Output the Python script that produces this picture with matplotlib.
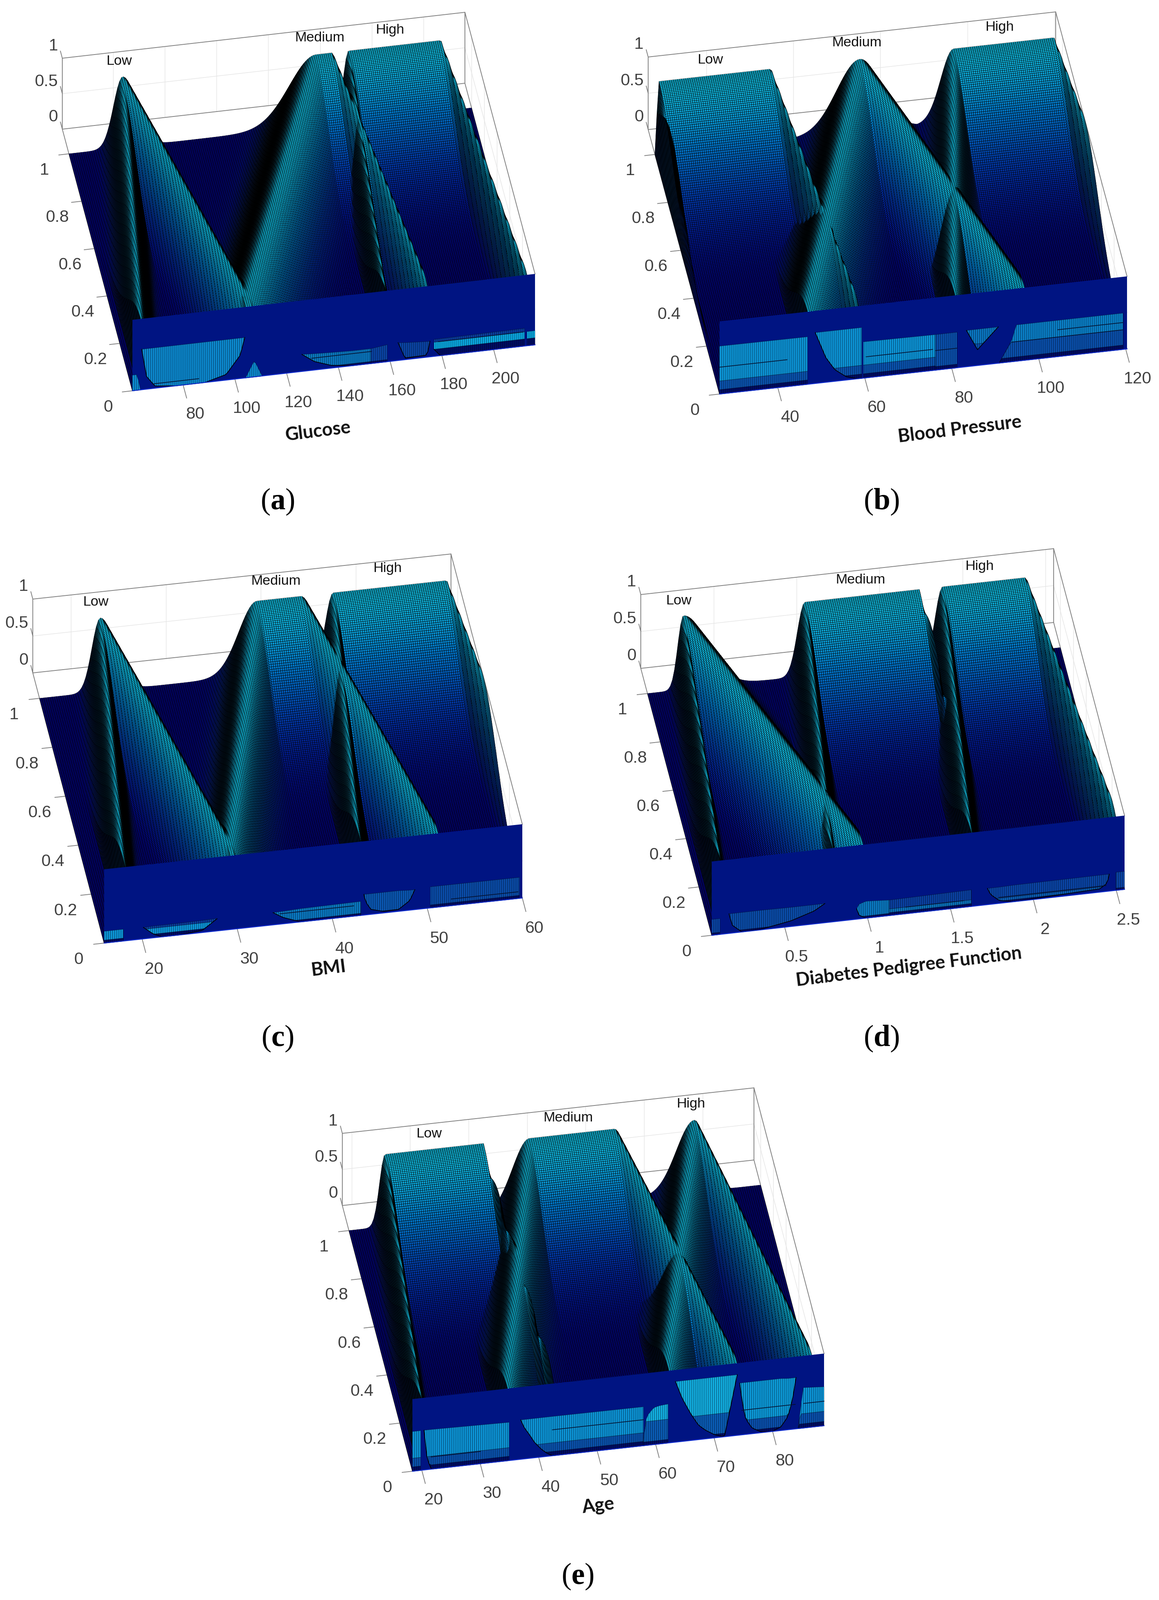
#!/usr/bin/env python3
''' Five type-2 membership surfaces (Low / Medium / High) for the diabetes inputs
'''

import numpy as np
import matplotlib
matplotlib.use('Agg')
from matplotlib import pyplot as plt
from matplotlib.colors import LinearSegmentedColormap
from mpl_toolkits.mplot3d import proj3d

#
# data
#

names = ['Glucose', 'Blood Pressure', 'BMI', 'Diabetes Pedigree Function', 'Age']
captions = ['a', 'b', 'c', 'd', 'e']

x_ranges = [(60.4, 216), (26.6, 120.3), (16, 60), (0.06, 2.55), (18.4, 88.8)]
x_ticks = [
    [80, 100, 120, 140, 160, 180, 200],
    [40, 60, 80, 100, 120],
    [20, 30, 40, 50, 60],
    [0.5, 1, 1.5, 2, 2.5],
    [20, 30, 40, 50, 60, 70, 80],
]
y_ticks = [0, 0.2, 0.4, 0.6, 0.8, 1]
z_ticks = [0, 0.5, 1]
set_names = ['Low', 'Medium', 'High']

# membership breakpoints
low_sets = [
    [63.5, 81.2, 107],
    [26.6, 27.2, 53.2, 58.9],
    [18, 22.4, 29.9],
    [0.107, 0.277, 0.98],
    [19.8, 24.6, 41.4, 43],
]
medium_sets = [
    [104, 156, 162, 175],
    [46.8, 73.8, 96.9],
    [29.2, 38.9, 43.5, 51.2],
    [0.78, 1.01, 1.71, 1.72],
    [34.6, 49.3, 63.8, 74],
]
high_sets = [
    [158, 168.5, 204, 213],
    [80.5, 95.3, 118.3, 124],
    [42.8, 46.9, 58.8, 61.8],
    [1.62, 1.84, 2.34, 2.51],
    [62, 77.5, 86.7],
]
spread = 0.2

# what shows through the front wall: axis fraction, lower edge, upper edge, band
NAVY = '#000c62'
bright = ([], ['#0c8ad0'])
layer = ([0.06, 0.18], [NAVY, '#0a52ac', '#0c94d6'])
cyan = ([0.05, 0.33], [NAVY, '#0a5cb4', '#12aee0'])
dim = ([0.03], [NAVY, '#0a44a4'])
mid = ([0.03], [NAVY, '#0a78c0'])
strip = ([0.1, 0.2], [NAVY, '#0aa8e0', '#0a3c9c'])

holes_a = [
    ([0, 0.012, 0.02], [0, 0, 0], [0.22, 0.22, 0], bright),
    ([0.023, 0.035, 0.056, 0.11, 0.18, 0.233, 0.268, 0.279],
     [0.57, 0.18, 0.03, 0, 0, 0.08, 0.33, 0.57],
     [0.57, 0.57, 0.57, 0.57, 0.57, 0.57, 0.57, 0.57], bright),
    ([0.281, 0.303, 0.322], [0, 0, 0], [0, 0.23, 0], bright),
    ([0.421, 0.452, 0.493, 0.546, 0.592], [0.24, 0.12, 0.04, 0, 0],
     [0.24, 0.23, 0.22, 0.21, 0.21], mid),
    ([0.592, 0.633], [0, 0], [0.21, 0.24], dim),
    ([0.66, 0.677, 0.732, 0.739], [0.25, 0.02, 0.03, 0.22], [0.25, 0.24, 0.22, 0.22], dim),
    ([0.749, 0.765, 0.974], [0.1, 0, 0], [0.24, 0.24, 0.25], strip),
    ([0.98, 1], [0, 0], [0.2, 0.2], strip),
]
holes_b = [
    ([0, 0.216], [0, 0], [0.66, 0.655], layer),
    ([0.235, 0.261, 0.283, 0.311, 0.339, 0.349], [0.70, 0.34, 0.16, 0.045, 0, 0],
     [0.70, 0.70, 0.70, 0.70, 0.70, 0.70], layer),
    ([0.353, 0.53], [0, 0], [0.5, 0.49], layer),
    ([0.53, 0.583], [0, 0], [0.49, 0.49], ([0.05], [NAVY, '#0a50ac'])),
    ([0.606, 0.633, 0.684], [0.5, 0.217, 0.5], [0.5, 0.5, 0.5], ([0.3], ['#0a50ac', '#0a76c0'])),
    ([0.686, 0.717, 0.728, 0.99], [0, 0, 0, 0], [0, 0.29, 0.5, 0.5],
     ([0.06, 0.27], [NAVY, '#0a50ac', '#0a80c8'])),
]
holes_c = [
    ([0, 0.046], [0, 0], [0.16, 0.16], ([0.04], [NAVY, '#0c94d6'])),
    ([0.094, 0.118, 0.139, 0.18, 0.235, 0.27], [0.155, 0.05, 0, 0, 0.03, 0.165],
     [0.155, 0.16, 0.16, 0.16, 0.165, 0.17], ([0.05, 0.13], [NAVY, '#0c94d6', '#0a3c9c'])),
    ([0.404, 0.428, 0.47, 0.614], [0.166, 0.086, 0, 0], [0.166, 0.17, 0.18, 0.19], mid),
    ([0.621, 0.625, 0.638, 0.669, 0.704, 0.731, 0.743],
     [0.28, 0.18, 0.067, 0.02, 0.026, 0.13, 0.27],
     [0.28, 0.28, 0.28, 0.28, 0.28, 0.27, 0.27], ([0.03], [NAVY, '#0a56b0'])),
    ([0.78, 0.993], [0, 0], [0.286, 0.284], ([0.04], [NAVY, '#0a4ca8'])),
]
holes_d = [
    ([0, 0.02], [0, 0], [0.215, 0.215], dim),
    ([0.042, 0.049, 0.073, 0.122, 0.192, 0.248, 0.274], [0.265, 0.11, 0, 0.01, 0.077, 0.175, 0.26],
     [0.265, 0.265, 0.265, 0.265, 0.26, 0.26, 0.26], ([0.03], [NAVY, '#0a4ca8'])),
    ([0.351, 0.357, 0.374, 0.43], [0.14, 0.05, 0, 0], [0.14, 0.2, 0.23, 0.21], mid),
    ([0.43, 0.629], [0, 0], [0.21, 0.225], ([0.04, 0.09], [NAVY, '#0a70b8', '#0a40a0'])),
    ([0.668, 0.675, 0.696, 0.731, 0.94, 0.958, 0.963], [0.22, 0.135, 0.04, 0, 0.045, 0.11, 0.23],
     [0.22, 0.22, 0.22, 0.225, 0.23, 0.23, 0.23], ([0.03, 0.07], [NAVY, '#0a5cb0', '#0a44a4'])),
    ([0.979, 1], [0, 0], [0.245, 0.245], dim),
]
holes_e = [
    ([0, 0.02], [0, 0], [0.55, 0.55], layer),
    ([0.028, 0.036, 0.046, 0.235], [0.55, 0.14, 0, 0], [0.55, 0.55, 0.55, 0.53], layer),
    ([0.263, 0.272, 0.284, 0.297, 0.312, 0.325, 0.34, 0.561], [0.545, 0.43, 0.33, 0.21, 0.115, 0.05, 0, 0],
     [0.545, 0.545, 0.545, 0.545, 0.545, 0.545, 0.545, 0.54], layer),
    ([0.561, 0.565, 0.572, 0.586, 0.6, 0.621], [0, 0, 0, 0, 0, 0], [0.05, 0.32, 0.42, 0.51, 0.53, 0.54], cyan),
    ([0.639, 0.655, 0.677, 0.695, 0.712, 0.735, 0.758, 0.789], [0.84, 0.6, 0.36, 0.2, 0.12, 0.04, 0, 0.84],
     [0.84, 0.84, 0.84, 0.84, 0.84, 0.84, 0.84, 0.84], cyan),
    ([0.795, 0.802, 0.81, 0.825, 0.846, 0.874, 0.895, 0.912, 0.923, 0.932],
     [0.72, 0.42, 0.21, 0.08, 0.014, 0, 0.05, 0.18, 0.4, 0.71],
     [0.72, 0.72, 0.72, 0.72, 0.72, 0.72, 0.72, 0.71, 0.71, 0.71], ([0.05, 0.2], [NAVY, '#0a50ac', '#0c9ad8'])),
    ([0.937, 0.949, 1], [0, 0, 0], [0, 0.56, 0.54], ([0.06, 0.2], [NAVY, '#0a50ac', '#0c94d6'])),
]
wall_holes = [holes_a, holes_b, holes_c, holes_d, holes_e]

# thin dark lines seen through the holes: from, to (axis fraction), height
hairlines = [
    [(0.05, 0.165, 0.064), (0.445, 0.594, 0.17), (0.76, 0.97, 0.2)],
    [(0, 0.166, 0.37), (0.36, 0.523, 0.29), (0.53, 0.583, 0.27), (0.717, 0.99, 0.27), (0.83, 0.99, 0.37)],
    [(0.42, 0.597, 0.14), (0.83, 0.99, 0.09)],
    [(0.696, 0.955, 0.08), (0.47, 0.61, 0.09)],
    [(0.045, 0.165, 0.17), (0.34, 0.561, 0.36), (0.8, 0.93, 0.34), (0.95, 1, 0.34)],
]

#
# layout, in reference pixels
#

W, H, DPI = 2827, 3902, 300
# front-left corner, front-right corner, back-left corner, box height
corners = [
    ((323, 953), (1305, 841), (152, 315), 173),
    ((1755, 961), (2749, 851), (1581, 316), 177),
    ((254, 2300), (1274, 2190), (80, 1641), 180),
    ((1736, 2281), (2743, 2169), (1563, 1630), 180),
    ((1006, 3588), (2010, 3477), (835, 2940), 176),
]
set_label_pos = [
    [(290, 149), (780, 92), (951, 73)],
    [(1732, 146), (2090, 104), (2438, 66)],
    [(233, 1468), (673, 1417), (945, 1386)],
    [(1655, 1465), (2099, 1414), (2389, 1381)],
    [(1046, 2765), (1386, 2726), (1685, 2692)],
]
axis_label_pos = [(776, 1052), (2341, 1048), (801, 2362), (2217, 2358), (1459, 3672)]
caption_pos = [(677, 1224), (2150, 1224), (677, 2533), (2150, 2533), (1409, 3845)]

Y_MAX = 1.104
NX, NY = 200, 190
GREY = '#808080'
TICK_TEXT = '#404040'

surface_cmap = LinearSegmentedColormap.from_list(
    'membership', ['#00007c', '#0036a8', '#0078cc', '#10c4e8'])

#
# functions
#


def membership(x, breaks):
    ''' triangle for three breakpoints, trapezoid for four '''
    heights = [0, 1, 0] if len(breaks) == 3 else [0, 1, 1, 0]
    return np.interp(x, breaks, heights)


def surface_z(x, y, sets):
    ''' secondary grade: a gaussian round each primary membership, taking the max '''
    z = np.zeros_like(x)
    for breaks in sets:
        inside = (x > breaks[0]) & (x < breaks[-1])
        grade = np.exp(-(y - membership(x, breaks)) ** 2 / (2 * spread ** 2))
        z = np.maximum(z, np.where(inside, grade, 0))
    return z


def cell_colors(X, Y, Z, corner, x_lo, x_hi):
    ''' colour by height; cells squeezed on screen or facing away go black, as a dense mesh does '''
    o, xe, ye, height = corner
    ex = np.array([xe[0] - o[0], xe[1] - o[1]], float)
    ey = np.array([ye[0] - o[0], ye[1] - o[1]], float)
    fx = (X - x_lo) / (x_hi - x_lo)
    fy = Y / Y_MAX
    sx = fx * ex[0] + fy * ey[0]
    sy = fx * ex[1] + fy * ey[1] - Z * height
    d1x, d1y = sx[1:, 1:] - sx[:-1, :-1], sy[1:, 1:] - sy[:-1, :-1]
    d2x, d2y = sx[1:, :-1] - sx[:-1, 1:], sy[1:, :-1] - sy[:-1, 1:]
    facing = np.sign(ex[0] * ey[1] - ex[1] * ey[0])
    area = facing * (d1x * d2y - d1y * d2x) / 2
    shade = np.clip((area - 8) / 6, 0, 1)
    avg = (Z[1:, 1:] + Z[:-1, :-1] + Z[1:, :-1] + Z[:-1, 1:]) / 4
    rgba = surface_cmap(avg)
    rgba[..., :3] *= shade[..., None]
    return rgba


def to_px(ax, x, y, z):
    ax.apply_aspect()
    xp, yp, _ = proj3d.proj_transform(x, y, z, ax.get_proj())
    return ax.transData.transform((xp, yp))


def fit_axes(ax, corner, x_lo, x_hi):
    ''' pick view and box aspect so the orthographic box lands on the given corners '''
    o, xe, ye, height = corner
    ex = np.array([xe[0] - o[0], o[1] - xe[1]], float)
    ey = np.array([ye[0] - o[0], o[1] - ye[1]], float)
    sin_e = np.sqrt((ex[1] / ex[0]) * (-ey[1] / ey[0]))
    azim = np.arctan((-ey[1] / ey[0]) / sin_e) - np.pi
    elev = np.arcsin(sin_e)
    aspect = (abs(ex[0] / np.sin(azim)), abs(ey[0] / np.cos(azim)), height / np.cos(elev))
    ax.set_box_aspect(aspect)
    ax.view_init(np.degrees(elev), np.degrees(azim), 0)

    size = 1000.0
    ax.set_position([0.2, 0.2, size / W, size / H])
    got = to_px(ax, x_hi, 0, 0) - to_px(ax, x_lo, 0, 0)
    size *= np.hypot(*ex) / np.hypot(*got)
    ax.set_position([0.2, 0.2, size / W, size / H])
    shift = np.array([o[0], H - o[1]]) - to_px(ax, x_lo, 0, 0)
    ax.set_position([0.2 + shift[0] / W, 0.2 + shift[1] / H, size / W, size / H])


def tick_text(ax, x, y, z, s, dx=0, dy=0, ha='center'):
    ''' plain figure text at a data position, nudged by dx, dy reference pixels '''
    px, py = to_px(ax, x, y, z)
    ax.figure.text((px + dx) / ax.figure.bbox.width, (py - dy) / ax.figure.bbox.height, s,
        ha=ha, va='center', color=TICK_TEXT, fontsize=9.8, family='Liberation Sans')


def draw_box(ax, x_lo, x_hi, ticks):
    span = x_hi - x_lo
    # faint grid on the back planes
    for t in ticks:
        ax.plot([t, t], [Y_MAX, Y_MAX], [0, 1], color='#e6e6e6', lw=0.35, zorder=1, clip_on=False)
    ax.plot([x_lo, x_hi], [Y_MAX, Y_MAX], [0.5, 0.5], color='#e6e6e6', lw=0.35, zorder=1, clip_on=False)
    for y in y_ticks[1:]:
        ax.plot([x_hi, x_hi], [y, y], [0, 1], color='#e6e6e6', lw=0.35, zorder=1, clip_on=False)
    ax.plot([x_hi, x_hi], [0, Y_MAX], [0.5, 0.5], color='#e6e6e6', lw=0.35, zorder=1, clip_on=False)

    segments = [
        ([x_lo, x_hi], [Y_MAX, Y_MAX], [0, 0]),
        ([x_lo, x_hi], [Y_MAX, Y_MAX], [1, 1]),
        ([x_lo, x_lo], [Y_MAX, Y_MAX], [0, 1]),
        ([x_hi, x_hi], [Y_MAX, Y_MAX], [0, 1]),
        ([x_lo, x_lo], [0, Y_MAX], [0, 0]),
        ([x_hi, x_hi], [0, Y_MAX], [1, 1]),
        ([x_hi, x_hi], [0, Y_MAX], [0, 0]),
    ]
    for xs, ys, zs in segments:
        ax.plot(xs, ys, zs, color=GREY, lw=0.45, zorder=2, clip_on=False)

    # ticks and their labels
    for t in ticks:
        ax.plot([t, t], [0, -0.055], [0, 0], color=GREY, lw=0.45, zorder=2, clip_on=False)
        tick_text(ax, t, -0.11, 0, '{:g}'.format(t), dx=12, dy=8)
    for y in y_ticks:
        ax.plot([x_lo, x_lo - 0.025 * span], [y, y], [0, 0], color=GREY, lw=0.45, zorder=2, clip_on=False)
        tick_text(ax, x_lo - 0.0775 * span, y - 0.043, 0, '{:g}'.format(y), dx=10, dy=6)
    for z in z_ticks:
        ax.plot([x_lo, x_lo], [Y_MAX, Y_MAX + 0.03], [z, z], color=GREY, lw=0.45, zorder=2, clip_on=False)
        tick_text(ax, x_lo - 0.011 * span, Y_MAX, z + 0.18, '{:g}'.format(z), ha='right')


def draw_wall(ax, x_lo, x_hi, holes, lines):
    span = x_hi - x_lo
    xw = np.array([[x_lo, x_hi], [x_lo, x_hi]])
    wall = ax.plot_surface(xw, np.zeros((2, 2)), np.array([[0, 0], [1, 1]]),
        color='#001482', shade=False, edgecolor='none', zorder=4)
    wall.set_clip_on(False)
    ax.plot([x_lo, x_hi], [0, 0], [0, 0], color='#0a2ad0', lw=0.5, zorder=7, clip_on=False)

    columns = np.linspace(0, 1, NX)
    for frac, low, high, (levels, colors) in holes:
        xc = np.unique(np.r_[frac[0], columns[(columns > frac[0]) & (columns < frac[-1])], frac[-1]])
        zl = np.interp(xc, frac, low)
        zh = np.interp(xc, frac, high)
        edges = [0] + list(levels) + [1]
        xd = x_lo + xc * span
        for i, c in enumerate(colors):
            z0 = np.clip(edges[i], zl, zh)
            z1 = np.clip(edges[i + 1], zl, zh)
            if np.all(z0 == z1):
                continue
            band = ax.plot_surface(np.vstack([xd, xd]), np.zeros((2, len(xd))), np.vstack([z0, z1]),
                rstride=1, cstride=1, color=c, shade=False,
                edgecolor=(0, 0, 0, 0.45), linewidth=0.22, zorder=5)
            band.set_clip_on(False)
        ax.plot(xd, np.zeros_like(xd), zl, color='black', lw=0.4, zorder=6, clip_on=False)

    for f0, f1, z in lines:
        ax.plot([x_lo + f0 * span, x_lo + f1 * span], [0, 0], [z, z],
            color='#04102e', lw=0.4, zorder=6, clip_on=False)


#
# main
#

if __name__ == '__main__':

    fig = plt.figure(figsize=((W + 0.01) / DPI, (H + 0.01) / DPI), dpi=DPI)

    plt.rcParams['mathtext.fontset'] = 'custom'
    plt.rcParams['mathtext.rm'] = 'Liberation Serif'
    plt.rcParams['mathtext.bf'] = 'Liberation Serif:bold'

    for i, name in enumerate(names):
        x_lo, x_hi = x_ranges[i]
        print('Plotting {}'.format(name))

        ax = fig.add_axes([0.1, 0.1, 0.4, 0.4], projection='3d', computed_zorder=False)
        ax.set_proj_type('ortho')
        ax.set_axis_off()
        ax.patch.set_visible(False)
        ax.set_xlim(x_lo, x_hi, view_margin=0)
        ax.set_ylim(0, Y_MAX, view_margin=0)
        ax.set_zlim(0, 1, view_margin=0)

        fit_axes(ax, corners[i], x_lo, x_hi)
        draw_box(ax, x_lo, x_hi, x_ticks[i])

        X, Y = np.meshgrid(np.linspace(x_lo, x_hi, NX), np.linspace(0, 1, NY))
        Z = surface_z(X, Y, [low_sets[i], medium_sets[i], high_sets[i]])
        surf = ax.plot_surface(X, Y, Z, rstride=1, cstride=1,
            facecolors=cell_colors(X, Y, Z, corners[i], x_lo, x_hi), shade=False,
            edgecolor='black', linewidth=0.18, antialiased=True, zorder=3)
        surf.set_clip_on(False)

        draw_wall(ax, x_lo, x_hi, wall_holes[i], hairlines[i])

        # set names, axis label and caption sit in plain figure space
        for label, (px, py) in zip(set_names, set_label_pos[i]):
            fig.text(px / W, 1 - py / H, label, ha='center', va='center', fontsize=8.2,
                family='Liberation Sans', color='#111111')
        px, py = axis_label_pos[i]
        fig.text(px / W, 1 - py / H, name, ha='center', va='center', rotation=7,
            fontsize=10.8, family='Lato', weight='bold', color='#111111')
        px, py = caption_pos[i]
        fig.text(px / W, 1 - py / H, r'($\mathbf{{{}}}$)'.format(captions[i]), ha='center', va='center',
            fontsize=17.5, family='Liberation Serif', color='black')

    fig.savefig('out.png', dpi=DPI)
